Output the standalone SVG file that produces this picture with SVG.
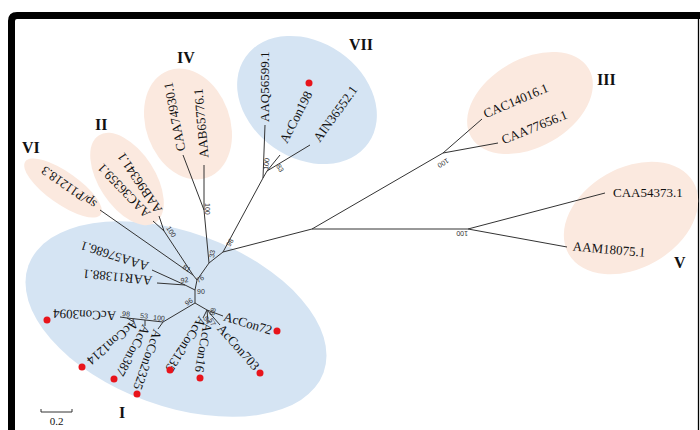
<svg xmlns="http://www.w3.org/2000/svg" width="700" height="430" viewBox="0 0 700 430">
<style>
.lbl{font-family:"Liberation Serif","Times New Roman",serif;font-size:13px;fill:#111}
.bs{font-family:"Liberation Sans",Arial,sans-serif;font-size:7px;fill:#333}
.grp{font-family:"Liberation Serif","Times New Roman",serif;font-size:16px;font-weight:bold;fill:#111}
.br{stroke:#333;stroke-width:1;fill:none}
.dot{fill:#e8141b}
.blue{fill:#d5e4f3}
.pink{fill:#fbe9df}
</style>
<rect x="0" y="0" width="700" height="430" fill="#fff"/>
<!-- frame -->
<path d="M11.5,430 V21 Q11.5,15.5 17,15.5 H700" fill="none" stroke="#000" stroke-width="7"/>
<line x1="698.5" y1="19" x2="698.5" y2="430" stroke="#000" stroke-width="1.3"/>

<!-- clade shading -->
<g id="clade-I"><ellipse class="blue" cx="176" cy="319" rx="157" ry="87" transform="rotate(20 176 319)"/></g>
<g id="clade-VII"><ellipse class="blue" cx="307" cy="100" rx="75" ry="58" transform="rotate(35 307 100)"/></g>
<g id="clade-IV"><ellipse class="pink" cx="188" cy="124" rx="57" ry="42" transform="rotate(70 188 124)"/></g>
<g id="clade-II"><ellipse class="pink" cx="127" cy="179" rx="52" ry="28" transform="rotate(57 127 179)"/></g>
<g id="clade-VI"><ellipse class="pink" cx="63" cy="188" rx="46" ry="16" transform="rotate(35 63 188)"/></g>
<g id="clade-III"><ellipse class="pink" cx="530" cy="103" rx="68" ry="44" transform="rotate(-30 530 103)"/></g>
<g id="clade-V"><ellipse class="pink" cx="631" cy="218" rx="72" ry="50" transform="rotate(-30 631 218)"/></g>

<!-- connectors -->
<g id="connectors" class="br">
<path d="M223,252 L312,229 L443,153 L482,119 M443,153 L498,143"/>
<path d="M312,229 L468,229 L605,193 M468,229 L567,247"/>
<path d="M223,252 L263,178 L265,125 M263,178 L267,171 L280,155 M267,171 L310,145"/>
<path d="M223,252 L209,263 L204,210 L183,155 M204,210 L204,165"/>
<path d="M209,263 L197,280 L193,275 L100,210 M193,275 L164,231 L153,221 M164,231 L159,216"/>
<path d="M197,280 L195,290 L185,285 L152,270 M185,285 L157,283"/>
<path d="M195,290 L195,303 L163,322 L145,320 L127,318 L120,317 M127,318 L134,322 M145,320 L145,326 M163,322 L158,329"/>
<path d="M195,303 L207,310 L203,318 M207,310 L208,322 M207,310 L220,325 M207,310 L223,316"/>
</g>

<!-- bootstrap values -->
<g id="bootstrap">
<text class="bs" transform="translate(230,247) rotate(-60)">98</text>
<text class="bs" transform="translate(214,258) rotate(-82)">33</text>
<text class="bs" transform="translate(205,203) rotate(90)">100</text>
<text class="bs" transform="translate(268,170) rotate(-82)">100</text>
<text class="bs" transform="translate(276,166) rotate(60)">83</text>
<text class="bs" transform="translate(447,158) rotate(150)">100</text>
<text class="bs" transform="translate(468,231) rotate(180)">100</text>
<text class="bs" transform="translate(166,228) rotate(58)">100</text>
<text class="bs" transform="translate(182,268) rotate(35)">81</text>
<text class="bs" transform="translate(198,283) rotate(-30)">76</text>
<text class="bs" transform="translate(181,283) rotate(-8)">92</text>
<text class="bs" transform="translate(197,294)">90</text>
<text class="bs" transform="translate(187,306) rotate(-35)">96</text>
<text class="bs" transform="translate(122,316) rotate(4)">98</text>
<text class="bs" transform="translate(140,318) rotate(4)">53</text>
<text class="bs" transform="translate(153,320) rotate(4)">100</text>
<text class="bs" transform="translate(214,316) rotate(-75)">98</text>
<text class="bs" transform="translate(208,320) rotate(60)">57</text>
<text class="bs" transform="translate(203,318) rotate(60)">54</text>
</g>

<!-- leaf labels -->
<g id="leaf-CAC14016"><text class="lbl" transform="translate(484,114) rotate(-23)" dy="0.35em">CAC14016.1</text></g>
<g id="leaf-CAA77656"><text class="lbl" transform="translate(502,140) rotate(-22)" dy="0.35em">CAA77656.1</text></g>
<g id="leaf-CAA54373"><text class="lbl" x="613" y="196.5">CAA54373.1</text></g>
<g id="leaf-AAM18075"><text class="lbl" transform="translate(573,246) rotate(5)" dy="0.35em">AAM18075.1</text></g>
<g id="leaf-AAQ56599"><text class="lbl" transform="translate(264,122) rotate(-90)" dy="0.35em">AAQ56599.1</text></g>
<g id="leaf-AcCon198"><text class="lbl" transform="translate(283,142) rotate(-63)" dy="0.35em">AcCon198</text><circle class="dot" cx="309" cy="83" r="3.5"/></g>
<g id="leaf-AIN36552"><text class="lbl" transform="translate(316,140) rotate(-54)" dy="0.35em">AIN36552.1</text></g>
<g id="leaf-CAA74930"><text class="lbl" transform="translate(181,151) rotate(-101)" dy="0.35em">CAA74930.1</text></g>
<g id="leaf-AAB65776"><text class="lbl" transform="translate(204,158) rotate(-95)" dy="0.35em">AAB65776.1</text></g>
<g id="leaf-AAB96341"><text class="lbl" transform="translate(159,212) rotate(236)" dy="0.35em">AAB96341.1</text></g>
<g id="leaf-AAC36359"><text class="lbl" transform="translate(148,216) rotate(226)" dy="0.35em">AAC36359.1</text></g>
<g id="leaf-spP11218"><text class="lbl" transform="translate(95,206) rotate(215)" dy="0.35em">sp/P11218.3</text></g>
<g id="leaf-AAA57686"><text class="lbl" transform="translate(148,267) rotate(198)" dy="0.35em">AAA57686.1</text></g>
<g id="leaf-AAR11388"><text class="lbl" transform="translate(152,281) rotate(186)" dy="0.35em">AAR11388.1</text></g>
<g id="leaf-AcCon3094"><text class="lbl" transform="translate(116,316) rotate(182)" dy="0.35em">AcCon3094</text><circle class="dot" cx="47" cy="320" r="3.5"/></g>
<g id="leaf-AcCon1214"><text class="lbl" transform="translate(137,322) rotate(140)" dy="0.35em">AcCon1214</text><circle class="dot" cx="82" cy="367" r="3.5"/></g>
<g id="leaf-AcCon387"><text class="lbl" transform="translate(147,326) rotate(119)" dy="0.35em">AcCon387</text><circle class="dot" cx="114" cy="379" r="3.5"/></g>
<g id="leaf-AcCon2325"><text class="lbl" transform="translate(158,330) rotate(109)" dy="0.35em">AcCon2325</text><circle class="dot" cx="137" cy="394" r="3.5"/></g>
<g id="leaf-AcCon2135"><text class="lbl" transform="translate(203,318) rotate(123)" dy="0.35em">AcCon2135</text><circle class="dot" cx="170" cy="370" r="3.5"/></g>
<g id="leaf-AcCon16"><text class="lbl" transform="translate(208,323) rotate(100)" dy="0.35em">AcCon16</text><circle class="dot" cx="200" cy="378" r="3.5"/></g>
<g id="leaf-AcCon703"><text class="lbl" transform="translate(220,326) rotate(48.5)" dy="0.35em">AcCon703</text><circle class="dot" cx="260" cy="373" r="3.5"/></g>
<g id="leaf-AcCon72"><text class="lbl" transform="translate(224,316) rotate(16.7)" dy="0.35em">AcCon72</text><circle class="dot" cx="277" cy="331" r="3.5"/></g>

<!-- clade labels -->
<g id="label-I"><text class="grp" x="119" y="418">I</text></g>
<g id="label-II"><text class="grp" x="95" y="130">II</text></g>
<g id="label-III"><text class="grp" x="597" y="85">III</text></g>
<g id="label-IV"><text class="grp" x="177" y="63">IV</text></g>
<g id="label-V"><text class="grp" x="674" y="268">V</text></g>
<g id="label-VI"><text class="grp" x="22" y="153">VI</text></g>
<g id="label-VII"><text class="grp" x="349" y="50">VII</text></g>

<!-- scale bar -->
<g id="scale">
<path d="M41,409 V412 H72 V409" class="br"/>
<text x="56.5" y="425" text-anchor="middle" style="font-family:'Liberation Serif',serif;font-size:11px;fill:#111">0.2</text>
</g>
</svg>
